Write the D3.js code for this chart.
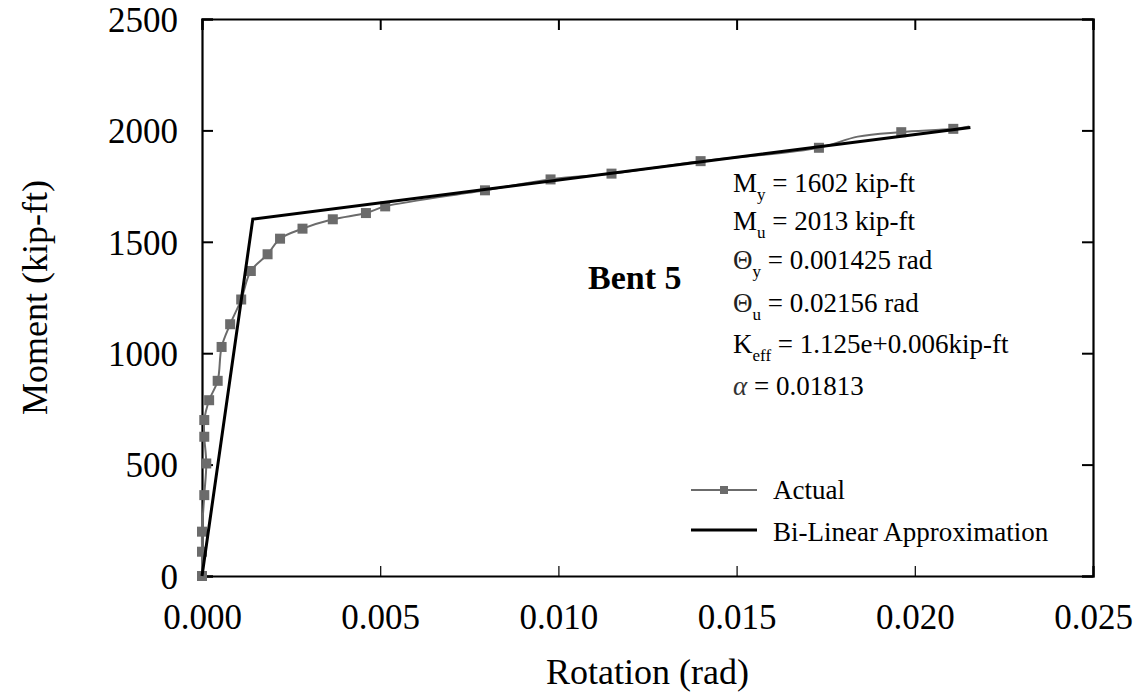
<!DOCTYPE html>
<html>
<head>
<meta charset="utf-8">
<script src="https://cdn.jsdelivr.net/npm/d3@7.9.0/dist/d3.min.js"></script>
<style>
  body { margin: 0; background: #fff; }
  svg text { font-family: "Liberation Serif", "Times New Roman", serif; fill: #000; }
</style>
</head>
<body>
<svg id="chart" width="1146" height="698"></svg>
<script>
// measured moment-rotation curve (in drawing order)
const actualRotation = [0, 0, 0, 0.000064, 0.00012, 0.000064, 0.000064, 0.0002, 0.00044, 0.00055,
  0.00079, 0.0011, 0.00137, 0.00184, 0.00219, 0.00282, 0.00367, 0.0046, 0.00514, 0.00794,
  0.00978, 0.01149, 0.01399, 0.01731, 0.0184, 0.01962, 0.02108, 0.02153];
const actualMoment = [0, 109, 199, 363, 505, 625, 700, 789, 876, 1028,
  1130, 1241, 1369, 1444, 1514, 1559, 1601, 1629, 1659, 1731,
  1780, 1806, 1862, 1922, 1972, 1992, 2007, 2018];
const actualMarked = [1, 1, 1, 1, 1, 1, 1, 1, 1, 1,
  1, 1, 1, 1, 1, 1, 1, 1, 1, 1,
  1, 1, 1, 1, 0, 1, 1, 0];

// bi-linear approximation
const bilinRotation = [0, 0.001425, 0.02156];
const bilinMoment = [0, 1602, 2013];

const xTicks = [0, 0.005, 0.010, 0.015, 0.020, 0.025];
const yTicks = [0, 500, 1000, 1500, 2000, 2500];

const annotations = [
  { main: 'M', sub: 'y', rest: ' = 1602 kip-ft' },
  { main: 'M', sub: 'u', rest: ' = 2013 kip-ft' },
  { main: 'Θ', sub: 'y', rest: ' = 0.001425 rad' },
  { main: 'Θ', sub: 'u', rest: ' = 0.02156 rad' },
  { main: 'K', sub: 'eff', rest: ' = 1.125e+0.006kip-ft' },
  { main: 'α', sub: '', rest: ' = 0.01813' }
];
const annotationBaselines = [192, 230, 269, 312, 353, 395];

const svg = d3.select('#chart');
const plotLeft = 202, plotRight = 1093, plotTop = 19, plotBottom = 576;

const x = d3.scaleLinear().domain([0, 0.025]).range([plotLeft, plotRight]);
const y = d3.scaleLinear().domain([0, 2500]).range([plotBottom, plotTop]);

const grey = '#6b6b6b';

// axes (ticks point inward)
const bottomAxis = svg.append('g')
  .attr('transform', `translate(0,${plotBottom})`)
  .call(d3.axisBottom(x).tickValues(xTicks).tickSize(-10).tickPadding(28).tickFormat(d3.format('.3f')));
const topAxis = svg.append('g')
  .attr('transform', `translate(0,${plotTop})`)
  .call(d3.axisTop(x).tickValues(xTicks).tickSize(-11).tickFormat(''));
const leftAxis = svg.append('g')
  .attr('transform', `translate(${plotLeft},0)`)
  .call(d3.axisLeft(y).tickValues(yTicks).tickSize(-11).tickPadding(24).tickFormat(d3.format('d')));
const rightAxis = svg.append('g')
  .attr('transform', `translate(${plotRight},0)`)
  .call(d3.axisRight(y).tickValues(yTicks).tickSize(-11).tickFormat(''));

[bottomAxis, topAxis, leftAxis, rightAxis].forEach((g) => {
  g.select('.domain').attr('stroke', '#000').attr('stroke-width', 2.2);
  g.selectAll('.tick line').attr('stroke', '#000').attr('stroke-width', 2);
  g.selectAll('.tick text')
    .style('font-family', '"Liberation Serif", serif')
    .attr('font-size', 35)
    .attr('fill', '#000');
});
bottomAxis.selectAll('.tick line').attr('stroke-width', 1.2);
bottomAxis.selectAll('.tick text').attr('dy', '0.71em');
leftAxis.selectAll('.tick text').attr('dy', '0.35em');

// axis titles
svg.append('text')
  .attr('x', (plotLeft + plotRight) / 2)
  .attr('y', 684)
  .attr('text-anchor', 'middle')
  .attr('font-size', 36)
  .text('Rotation (rad)');

svg.append('text')
  .attr('transform', `translate(47,${(plotTop + plotBottom) / 2}) rotate(-90)`)
  .attr('text-anchor', 'middle')
  .attr('font-size', 36)
  .text('Moment (kip-ft)');

// actual curve
const actual = actualRotation.map((r, i) => ({ r, m: actualMoment[i], mark: actualMarked[i] }));
const line = d3.line()
  .x((d) => x(d.r))
  .y((d) => y(d.m))
  .curve(d3.curveCatmullRom.alpha(0.5));

svg.append('path')
  .datum(actual)
  .attr('d', line)
  .attr('fill', 'none')
  .attr('stroke', grey)
  .attr('stroke-width', 2);

svg.selectAll('rect.marker')
  .data(actual.filter((d) => d.mark))
  .join('rect')
  .attr('class', 'marker')
  .attr('x', (d) => x(d.r) - 5)
  .attr('y', (d) => y(d.m) - 5)
  .attr('width', 10)
  .attr('height', 10)
  .attr('fill', grey);

// bi-linear
const bilin = bilinRotation.map((r, i) => ({ r, m: bilinMoment[i] }));
svg.append('path')
  .datum(bilin)
  .attr('d', d3.line().x((d) => x(d.r)).y((d) => y(d.m)))
  .attr('fill', 'none')
  .attr('stroke', '#000')
  .attr('stroke-width', 3);

// label
svg.append('text')
  .attr('x', 588)
  .attr('y', 289)
  .attr('font-size', 34)
  .attr('font-weight', 'bold')
  .text('Bent 5');

// annotation block
annotations.forEach((a, i) => {
  const t = svg.append('text')
    .attr('x', 733)
    .attr('y', annotationBaselines[i])
    .attr('font-size', 27);
  const main = t.append('tspan').text(a.main);
  if (a.main === 'α') main.attr('font-style', 'italic').attr('fill', '#333');
  if (a.main === 'Θ') main.attr('fill', '#222');
  if (a.sub) {
    t.append('tspan').attr('font-size', 17).attr('dy', 8).text(a.sub);
    t.append('tspan').attr('dy', -8).text(a.rest);
  } else {
    t.append('tspan').text(a.rest);
  }
});

// legend
const legend = svg.append('g');
legend.append('line')
  .attr('x1', 691).attr('x2', 757).attr('y1', 490).attr('y2', 490)
  .attr('stroke', grey).attr('stroke-width', 2);
legend.append('rect')
  .attr('x', 720).attr('y', 486).attr('width', 8).attr('height', 8)
  .attr('fill', grey);
legend.append('text').attr('x', 773).attr('y', 499).attr('font-size', 27).text('Actual');
legend.append('line')
  .attr('x1', 691).attr('x2', 757).attr('y1', 530).attr('y2', 530)
  .attr('stroke', '#000').attr('stroke-width', 3);
legend.append('text').attr('x', 773).attr('y', 541).attr('font-size', 27).text('Bi-Linear Approximation');
</script>
</body>
</html>
